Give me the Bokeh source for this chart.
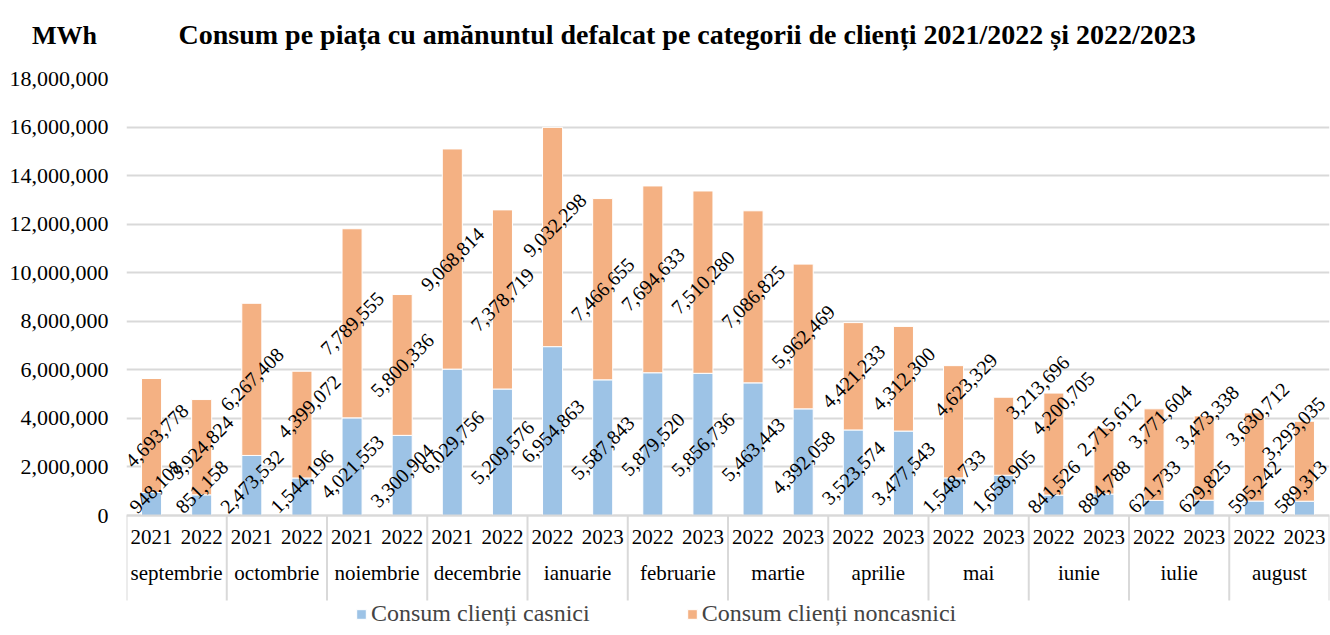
import math
from bokeh.plotting import figure
from bokeh.models import (FactorRange, Range1d, ColumnDataSource, FixedTicker,
                          NumeralTickFormatter, Legend, LegendItem, Label, Title)
from bokeh.core.properties import value
from bokeh.embed import file_html
from bokeh.resources import INLINE

# ---------------- data ----------------
months = ["septembrie", "octombrie", "noiembrie", "decembrie", "ianuarie", "februarie",
          "martie", "aprilie", "mai", "iunie", "iulie", "august"]
year_pairs = [("2021", "2022")] * 4 + [("2022", "2023")] * 8
casnici = [948108, 851158, 2473532, 1544196, 4021553, 3300904, 6029756, 5209576,
           6954863, 5587843, 5879520, 5856736, 5463443, 4392058, 3523574, 3477543,
           1548733, 1658905, 841526, 884788, 621733, 629825, 595242, 589313]
noncasnici = [4693778, 3924824, 6267408, 4399072, 7789555, 5800336, 9068814, 7378719,
              9032298, 7466655, 7694633, 7510280, 7086825, 5962469, 4421233, 4312300,
              4623329, 3213696, 4200705, 2715612, 3771604, 3473338, 3630712, 3293035]
series_names = ["Consum clienți casnici", "Consum clienți noncasnici"]
y_ticks = list(range(0, 18000001, 2000000))
title_text = "Consum pe piața cu amănuntul defalcat pe categorii de clienți 2021/2022 și 2022/2023"
unit_text = "MWh"

# ---------------- style / layout ----------------
FONT = "Liberation Serif"
BLUE = "#9DC3E6"
ORANGE = "#F4B183"
GRID = "#D9D9D9"
W, H = 1330, 627
TOP, LEFT, RIGHT = 78, 126, 1
PX0 = 437.0                      # px from 0 to 18,000,000
K = 18e6 / PX0                   # data units per px
Y0 = -112 * K                    # frame bottom
LABEL_FS = 20
# hand-placed label nudges (px), as in the reference
nudge_x = [5, 0, 0, 7, 0, 0, 0, 0, 2, 0, 0, 0, 0, 0, 0, 0, 12, 34, 9, 5, 6, 3, 3, -11]
nudge_y = [0, 0, 0, -18, 0, 0, 0, 0, -12, 0, 0, 0, 0, 0, 0, 0, -37, -49, -41, -37, -38, -41, -43, -33]
nudge_cx = [4] + [0] * 22 + [-4]

factors = [(m, y) for m, ys in zip(months, year_pairs) for y in ys]

p = figure(x_range=FactorRange(*factors, factor_padding=0, group_padding=0,
                               subgroup_padding=0, range_padding=0),
           y_range=Range1d(Y0, 18e6),
           width=W, height=H, title=None, x_axis_location=None,
           output_backend="svg", toolbar_location=None,
           min_border_left=LEFT, min_border_right=RIGHT,
           min_border_top=TOP, min_border_bottom=0)
p.outline_line_color = None
p.background_fill_color = "white"
p.border_fill_color = "white"

p.xgrid.visible = False
p.ygrid.grid_line_color = GRID
p.ygrid.grid_line_width = 2
p.ygrid.ticker = FixedTicker(ticks=y_ticks)

ya = p.yaxis[0]
ya.ticker = FixedTicker(ticks=y_ticks)
ya.formatter = NumeralTickFormatter(format="0,0")
ya.axis_line_color = None
ya.major_tick_line_color = None
ya.minor_tick_line_color = None
ya.major_label_standoff = 12
ya.major_label_text_font = FONT
ya.major_label_text_font_size = "22px"
ya.major_label_text_color = "black"

src = ColumnDataSource(dict(x=factors, casnici=casnici, noncasnici=noncasnici))
rs = p.vbar_stack(["casnici", "noncasnici"], x="x", width=0.4, source=src,
                  fill_color=[BLUE, ORANGE], line_color="white", line_width=1)

# ---------------- category table below the axis ----------------
bounds = [(months[0], year_pairs[0][0], -0.5)] + \
         [(m, ys[1], 0.5) for m, ys in zip(months, year_pairs)]
p.segment(x0=[bounds[0]], y0=[0], x1=[bounds[-1]], y1=[0],
          line_color=GRID, line_width=2)
p.segment(x0=bounds, y0=[0] * len(bounds), x1=bounds, y1=[-85 * K] * len(bounds),
          line_color=GRID, line_width=2)
p.text(x=factors, y=[-21 * K] * len(factors), text=[f[1] for f in factors],
       text_font=value(FONT), text_font_size="21px", text_align="center",
       text_baseline="middle", text_color="black")
p.text(x=months, y=[-57 * K] * len(months), text=months,
       text_font=value(FONT), text_font_size="21px", text_align="center",
       text_baseline="middle", text_color="black")

# ---------------- data labels ----------------
def half_extent_px(s):
    L = sum(0.5 if ch.isdigit() else 0.25 for ch in s) * LABEL_FS
    h = 0.7 * LABEL_FS
    return (L + h) * math.sqrt(0.5) / 2 + 1

lx, ly, lt, ox, oy = [], [], [], [], []
for i, (f, c, n) in enumerate(zip(factors, casnici, noncasnici)):
    t = f"{c:,}"
    lx.append(f); lt.append(t); ox.append(nudge_cx[i]); oy.append(0)
    ly.append(max(c / 2, half_extent_px(t) * K))
    t = f"{n:,}"
    lx.append(f); lt.append(t); ox.append(nudge_x[i]); oy.append(nudge_y[i])
    ly.append(c + n / 2)
lab = ColumnDataSource(dict(x=lx, y=ly, t=lt, ox=ox, oy=oy))
p.text(x="x", y="y", text="t", x_offset="ox", y_offset="oy", source=lab,
       angle=math.pi / 4, text_font=value(FONT),
       text_font_size=f"{LABEL_FS}px", text_align="center", text_baseline="middle",
       text_color="black")

# ---------------- legend ----------------
legend = Legend(items=[LegendItem(label=series_names[0], renderers=[rs[0]]),
                       LegendItem(label=series_names[1], renderers=[rs[1]])],
                orientation="horizontal", location=(229, 0),
                label_text_font=FONT, label_text_font_size="24px",
                glyph_width=12, glyph_height=12, label_standoff=4, spacing=96,
                padding=0, margin=0, border_line_color=None,
                background_fill_alpha=0)
p.add_layout(legend, "center")

# ---------------- titles ----------------
p.add_layout(Label(x=-62, y=43, x_units="screen", y_units="screen",
                   text=unit_text, text_font=FONT, text_font_size="26px",
                   text_font_style="bold", text_align="center", text_baseline="middle",
                   text_color="black"), "above")
p.add_layout(Title(text=title_text, align="left", offset=52, standoff=0,
                   text_font=FONT, text_font_size="28px", text_font_style="bold",
                   text_color="black"), "above")

open("out.html", "w").write(file_html(p, INLINE))
